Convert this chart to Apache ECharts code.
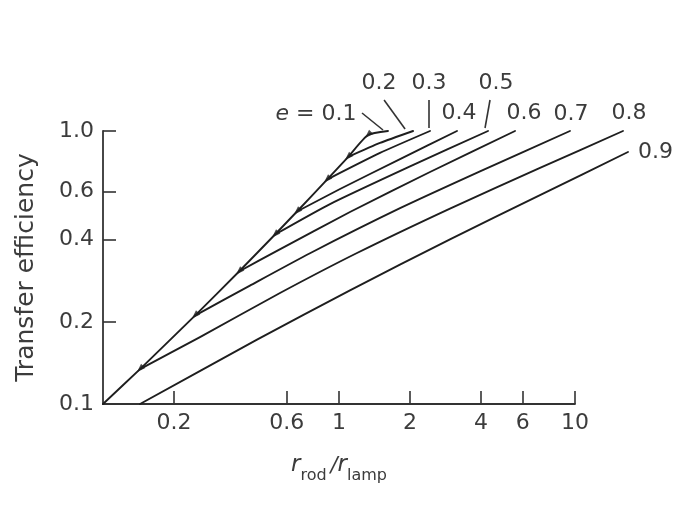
<!DOCTYPE html>
<html><head><meta charset="utf-8">
<script src="https://cdn.jsdelivr.net/npm/echarts@6/dist/echarts.min.js"></script>
<style>html,body{margin:0;padding:0;background:#fff}#c{width:678px;height:525px}</style>
</head><body><div id="c"></div>
<script>
// ---- tick values / labels ----
const xTickValues = [0.2, 0.6, 1, 2, 4, 6, 10];
const xTickLabels = ['0.2', '0.6', '1', '2', '4', '6', '10'];
const yTickValues = [0.1, 0.2, 0.4, 0.6, 1.0];
const yTickLabels = ['0.1', '0.2', '0.4', '0.6', '1.0'];
const eLabels = ['e = 0.1', '0.2', '0.3', '0.4', '0.5', '0.6', '0.7', '0.8', '0.9'];

// ---- curves (x = r_rod/r_lamp, y = transfer efficiency) ----
const e01X = [0.1, 0.1435, 0.2453, 0.3771, 0.5356, 0.6637, 0.8897, 1.092, 1.327, 1.613];
const e01Y = [0.1, 0.1342, 0.2108, 0.3058, 0.4177, 0.5071, 0.6637, 0.8029, 0.9667, 1.0];
const e02X = [1.092, 1.492, 2.06];
const e02Y = [0.8029, 0.904, 1.0];
const e03X = [0.8897, 1.492, 2.43];
const e03Y = [0.6637, 0.831, 1.0];
const e04X = [0.6637, 1.01, 1.814, 3.162];
const e04Y = [0.5071, 0.613, 0.789, 1.0];
const e05X = [0.5356, 0.916, 2.0, 4.28];
const e05Y = [0.4177, 0.540, 0.742, 1.0];
const e06X = [0.3771, 0.546, 1.113, 2.43, 5.57];
const e06Y = [0.3058, 0.3640, 0.505, 0.7077, 1.0];
const e07X = [0.2453, 0.4193, 0.7536, 1.814, 3.958, 9.52];
const e07Y = [0.2108, 0.2715, 0.3567, 0.5214, 0.7112, 1.0];
const e08X = [0.1435, 0.2576, 0.5623, 1.192, 2.953, 7.107, 15.97];
const e08Y = [0.1342, 0.1759, 0.2550, 0.3573, 0.5197, 0.7322, 1.0];
const e09X = [0.1435, 0.4494, 1.113, 2.953, 7.107, 16.77];
const e09Y = [0.1, 0.1721, 0.2609, 0.4012, 0.5818, 0.8378];
// branch points on the envelope (small arrowheads)
const branchX = [0.1435, 0.2453, 0.3771, 0.5356, 0.6637, 0.8897, 1.092, 1.327];
const branchY = [0.1342, 0.2108, 0.3058, 0.4177, 0.5071, 0.6637, 0.8029, 0.9667];

const curvesX = [e01X, e02X, e03X, e04X, e05X, e06X, e07X, e08X, e09X];
const curvesY = [e01Y, e02Y, e03Y, e04Y, e05Y, e06Y, e07Y, e08Y, e09Y];

// ---- styling / layout ----
const FONT = 'DejaVu Sans';
const TXT = '#3c3c3c';
const INK = '#1e1e1e';
const X_MIN = 0.1, X_MAX = 10, X_MAX_EXT = 20;   // curves run past the drawn axis end
const GRID_LEFT = 103, GRID_TOP = 131, GRID_W = 472, GRID_H = 273;
const GRID_W_EXT = GRID_W * Math.log10(X_MAX_EXT / X_MIN) / Math.log10(X_MAX / X_MIN);
const annot = [
  { dx: -72, dy: -17, leader: [-26, -18, -5, -1] },
  { dx: -34, dy: -48, leader: [-29, -31, -8, -2] },
  { dx: -1, dy: -48, leader: [-1, -31, -1, -3] },
  { dx: 2, dy: -18 },
  { dx: 8, dy: -48, leader: [2, -31, -3, -3] },
  { dx: 9, dy: -18 },
  { dx: 1, dy: -17 },
  { dx: 6, dy: -18 },
  { dx: 10, dy: 0, align: 'left' }
];

function pick(vals, labels, v) {
  let best = 0, bd = Infinity;
  vals.forEach((t, i) => { const d = Math.abs(Math.log10(t) - Math.log10(v)); if (d < bd) { bd = d; best = i; } });
  return bd < 1e-4 ? labels[best] : '';
}
const zip = (xs, ys) => xs.map((x, i) => [x, ys[i]]);

const chart = echarts.init(document.getElementById('c'), null, { renderer: 'canvas' });

const series = curvesX.map((xs, k) => ({
  type: 'line',
  xAxisIndex: 1, yAxisIndex: 1,
  data: zip(xs, curvesY[k]),
  showSymbol: false,
  symbol: 'none',
  smooth: 0.2,
  clip: false,
  lineStyle: { color: INK, width: 1.9, join: 'round', cap: 'round' },
  silent: true,
  z: 3
}));
series.push({
  type: 'scatter',
  xAxisIndex: 1, yAxisIndex: 1,
  data: zip(branchX, branchY),
  symbol: 'triangle',
  symbolSize: [6, 9],
  symbolRotate: 135,
  itemStyle: { color: INK },
  clip: false,
  silent: true,
  z: 4
});

const axisLineStyle = { color: '#333', width: 1.8 };
const option = {
  animation: false,
  backgroundColor: '#ffffff',
  grid: [
    { left: GRID_LEFT, top: GRID_TOP, width: GRID_W, height: GRID_H },
    { left: GRID_LEFT, top: GRID_TOP, width: GRID_W_EXT, height: GRID_H }
  ],
  xAxis: [{
    gridIndex: 0,
    type: 'log', logBase: 10, min: X_MIN, max: X_MAX,
    axisLine: { lineStyle: axisLineStyle },
    axisTick: { show: true, inside: true, length: 13, customValues: xTickValues, lineStyle: { color: '#333', width: 1.6 } },
    axisLabel: {
      customValues: xTickValues, margin: 8, fontSize: 22, fontFamily: FONT, color: TXT,
      showMinLabel: true, showMaxLabel: true,
      formatter: v => pick(xTickValues, xTickLabels, v)
    },
    minorTick: { show: false }, splitLine: { show: false },
    name: '{i|r}{s|rod} {n|/}{i|r}{s|lamp}',
    nameLocation: 'middle', nameGap: 50,
    nameTextStyle: {
      color: TXT, fontFamily: FONT,
      rich: {
        i: { fontStyle: 'italic', fontSize: 23, fontFamily: FONT, color: TXT, verticalAlign: 'bottom', padding: [0, 0, 7, 0] },
        s: { fontSize: 16, fontFamily: FONT, color: TXT, verticalAlign: 'bottom' },
        n: { fontStyle: 'italic', fontSize: 21, fontFamily: FONT, color: TXT, verticalAlign: 'bottom', padding: [0, 0, 7, 0] }
      }
    }
  }, {
    gridIndex: 1, show: false,
    type: 'log', logBase: 10, min: X_MIN, max: X_MAX_EXT,
    splitLine: { show: false }
  }],
  yAxis: [{
    gridIndex: 0,
    type: 'log', logBase: 10, min: 0.1, max: 1.0,
    axisLine: { lineStyle: axisLineStyle },
    axisTick: { show: true, inside: true, length: 13, customValues: yTickValues, lineStyle: { color: '#333', width: 1.6 } },
    axisLabel: {
      customValues: yTickValues, margin: 9, fontSize: 22, fontFamily: FONT, color: TXT,
      showMinLabel: true, showMaxLabel: true,
      formatter: v => pick(yTickValues, yTickLabels, v)
    },
    minorTick: { show: false }, splitLine: { show: false },
    name: 'Transfer efficiency',
    nameLocation: 'middle', nameGap: 64,
    nameTextStyle: { color: TXT, fontFamily: FONT, fontSize: 25 }
  }, {
    gridIndex: 1, show: false,
    type: 'log', logBase: 10, min: 0.1, max: 1.0,
    splitLine: { show: false }
  }],
  series: series
};
chart.setOption(option);

// annotations anchored to the curve ends through the chart's own scales
const graphics = [];
curvesX.forEach((xs, k) => {
  const ys = curvesY[k];
  const p = chart.convertToPixel({ xAxisIndex: 1, yAxisIndex: 1 }, [xs[xs.length - 1], ys[ys.length - 1]]);
  const a = annot[k];
  const isFirst = k === 0;
  graphics.push({
    type: 'text',
    x: p[0] + a.dx, y: p[1] + a.dy,
    silent: true,
    style: {
      text: isFirst ? '{i|e} = 0.1' : eLabels[k],
      fill: TXT, fontSize: 22, fontFamily: FONT,
      align: a.align || 'center', verticalAlign: 'middle',
      rich: isFirst ? { i: { fontStyle: 'italic', fontSize: 22, fontFamily: FONT, fill: TXT } } : undefined
    }
  });
  if (a.leader) {
    graphics.push({
      type: 'line', silent: true,
      shape: { x1: p[0] + a.leader[0], y1: p[1] + a.leader[1], x2: p[0] + a.leader[2], y2: p[1] + a.leader[3] },
      style: { stroke: '#333', lineWidth: 1.6 }
    });
  }
});
chart.setOption({ graphic: graphics });
</script>
</body></html>
